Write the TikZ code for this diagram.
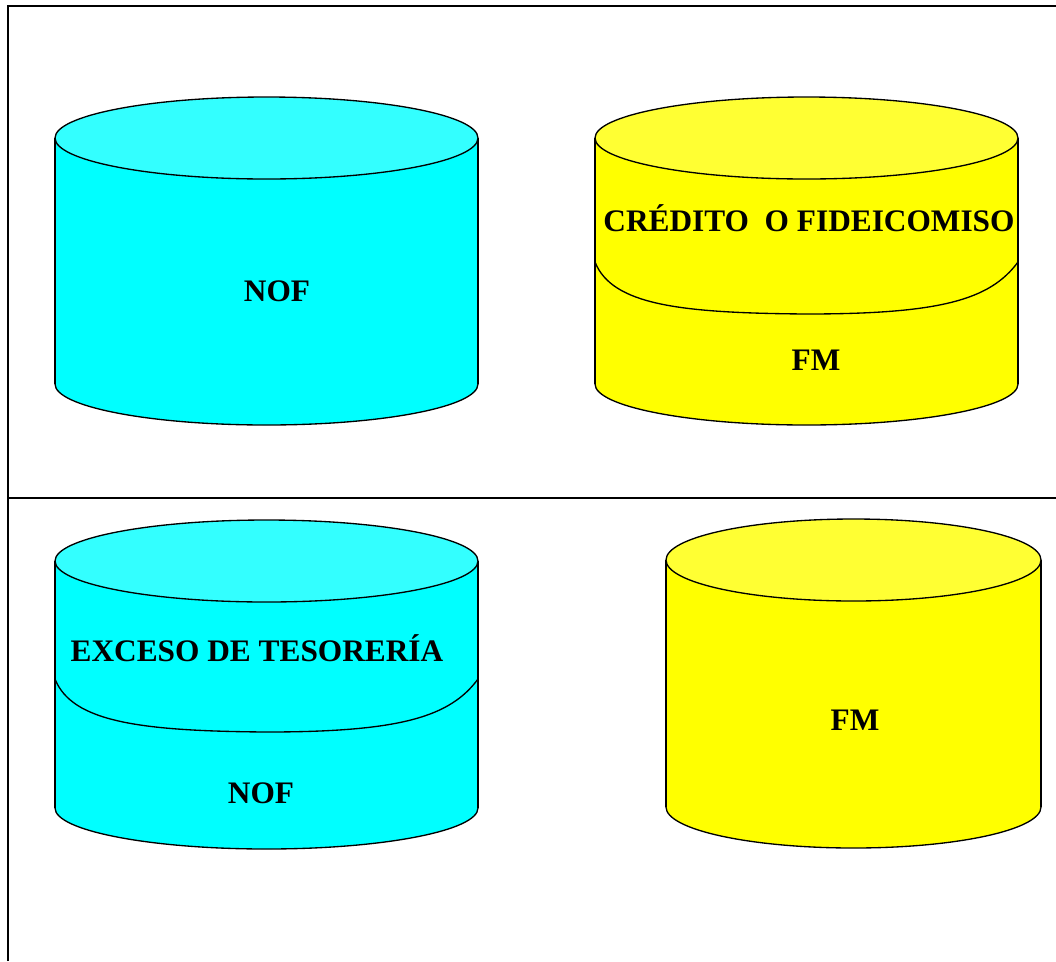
\documentclass[tikz,border=0pt]{standalone}
\usepackage{fontspec}
\setmainfont{Liberation Serif}
\definecolor{nofbody}{HTML}{00FFFF}
\definecolor{nofcap}{HTML}{33FFFF}
\definecolor{fmbody}{HTML}{FFFF00}
\definecolor{fmcap}{HTML}{FFFF33}
\begin{document}
\begin{tikzpicture}[x=0.75pt,y=-0.75pt,
 tank/.style={draw=black,line width=1pt},
 frame/.style={draw=black,line width=1.1pt},
 lbl/.style={font=\fontsize{23.5}{28}\selectfont\bfseries,inner sep=0pt}]
 \useasboundingbox (0,0) rectangle (1056,961);
 % marco
 \draw[frame](8,961)--(8,6)--(1056,6);
 \draw[frame](8,498)--(1056,498);
 % NOF arriba
 \draw[tank,fill=nofbody](266.5,384) ellipse [x radius=211.5,y radius=41];
 \fill[nofbody](55,138) rectangle (478,384);
 \draw[tank](55,138)--(55,384) (478,138)--(478,384);
 \draw[tank,fill=nofcap](266.5,138) ellipse [x radius=211.5,y radius=41];
 % credito + FM arriba
 \draw[tank,fill=fmbody](806.5,384) ellipse [x radius=211.5,y radius=41];
 \fill[fmbody](595,138) rectangle (1018,384);
 \draw[tank](595,138)--(595,384) (1018,138)--(1018,384);
 \draw[tank,fill=fmcap](806.5,138) ellipse [x radius=211.5,y radius=41];
 \draw[tank](595,262) .. controls (612,305) and (680,313) .. (806,314) .. controls (940,314) and (990,300) .. (1018,262);
 % exceso + NOF abajo
 \draw[tank,fill=nofbody](266.5,808) ellipse [x radius=211.5,y radius=41];
 \fill[nofbody](55,561) rectangle (478,808);
 \draw[tank](55,561)--(55,808) (478,561)--(478,808);
 \draw[tank,fill=nofcap](266.5,561) ellipse [x radius=211.5,y radius=41];
 \draw[tank](55,679) .. controls (72,722) and (140,731) .. (266,732) .. controls (400,732) and (450,717) .. (478,679);
 % FM abajo
 \draw[tank,fill=fmbody](853.5,807) ellipse [x radius=187.5,y radius=41];
 \fill[fmbody](666,560) rectangle (1041,807);
 \draw[tank](666,560)--(666,807) (1041,560)--(1041,807);
 \draw[tank,fill=fmcap](853.5,560) ellipse [x radius=187.5,y radius=41];
 % textos
 \node[lbl] (nofA) at (277,291) {NOF};
 \node[lbl] (credito) at (809,218) {CRÉDITO\ \ O FIDEICOMISO};
 \node[lbl] (fmA) at (816,360) {FM};
 \node[lbl] (exceso) at (257,648) {EXCESO DE TESORERÍA};
 \node[lbl] (nofB) at (261,793) {NOF};
 \node[lbl] (fmB) at (855,720) {FM};
\end{tikzpicture}
\end{document}
